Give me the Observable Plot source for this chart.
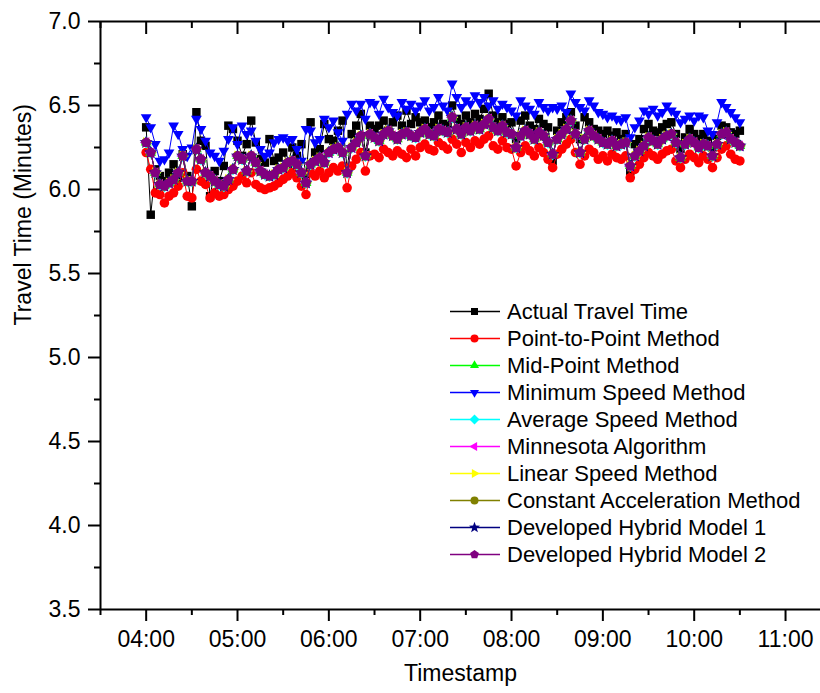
<!DOCTYPE html>
<html>
<head>
<meta charset="utf-8">
<script src="https://cdn.jsdelivr.net/npm/d3@7"></script>
<script src="https://cdn.jsdelivr.net/npm/@observablehq/plot@0.6"></script>
<style>
  body { margin: 0; background: #fff; font-family: "Liberation Sans", Arial, sans-serif; }
  #wrap { position: relative; width: 820px; height: 693px; }
  #legend { position: absolute; left: 450px; top: 298px; }
  .row { display: flex; align-items: center; height: 27px; font-size: 22px; color: #000; white-space: nowrap; }
  .row svg { display: block; margin-right: 5px; }
</style>
</head>
<body>
<div id="wrap"><div id="chart"></div><div id="legend"></div></div>
<script>
// ---- data ----
const startHour = 4;            // first sample at 04:00
const sampleMinutes = 3;        // sampling interval
const xTickLabels = ["04:00","05:00","06:00","07:00","08:00","09:00","10:00","11:00"];
const xTickHours = [4,5,6,7,8,9,10,11];
const xMinorHours = [3.5,4.5,5.5,6.5,7.5,8.5,9.5,10.5];
const yTicks = [3.5,4.0,4.5,5.0,5.5,6.0,6.5,7.0];
const yMinor = [3.75,4.25,4.75,5.25,5.75,6.25,6.75];

const actualTravelTime = [
 6.37,5.85,6.12,6.08,6.05,6.10,6.15,6.07,6.21,6.08,
 5.90,6.46,6.29,6.26,5.96,6.11,6.05,6.14,6.38,6.36,
 6.29,6.20,6.27,6.41,6.28,6.18,6.16,6.30,6.17,6.19,
 6.22,6.15,6.25,6.20,6.27,6.08,6.40,6.22,6.24,6.39,
 6.30,6.29,6.35,6.41,6.12,6.33,6.38,6.45,6.22,6.38,
 6.36,6.38,6.41,6.35,6.40,6.44,6.38,6.47,6.39,6.43,
 6.40,6.41,6.37,6.40,6.44,6.39,6.38,6.50,6.42,6.39,
 6.44,6.40,6.45,6.42,6.48,6.57,6.44,6.40,6.43,6.39,
 6.40,6.30,6.41,6.44,6.38,6.36,6.42,6.39,6.37,6.17,
 6.35,6.40,6.43,6.46,6.38,6.30,6.43,6.40,6.36,6.35,
 6.33,6.35,6.32,6.34,6.30,6.33,6.11,6.27,6.30,6.36,
 6.39,6.35,6.34,6.37,6.39,6.40,6.33,6.24,6.31,6.36,
 6.33,6.30,6.33,6.29,6.25,6.32,6.38,6.37,6.34,6.33,
 6.35];

const pointToPoint = [
 6.22,6.12,5.98,5.97,5.92,5.96,5.98,6.02,6.10,5.96,
 5.95,6.12,6.05,6.03,5.95,5.98,5.96,5.97,6.00,6.02,
 6.05,6.08,6.04,6.10,6.03,6.01,6.00,6.01,6.02,6.04,
 6.06,6.08,6.10,6.07,6.02,5.97,6.10,6.08,6.11,6.07,
 6.10,6.13,6.11,6.14,6.01,6.14,6.18,6.22,6.11,6.20,
 6.21,6.19,6.24,6.22,6.20,6.23,6.21,6.19,6.24,6.20,
 6.25,6.27,6.24,6.23,6.28,6.26,6.24,6.30,6.27,6.22,
 6.28,6.25,6.29,6.27,6.30,6.32,6.26,6.24,6.29,6.25,
 6.24,6.14,6.22,6.26,6.23,6.20,6.25,6.22,6.18,6.13,
 6.21,6.24,6.27,6.30,6.22,6.15,6.20,6.24,6.22,6.18,
 6.20,6.17,6.21,6.19,6.18,6.20,6.07,6.12,6.15,6.19,
 6.22,6.20,6.18,6.21,6.23,6.24,6.17,6.13,6.18,6.21,
 6.19,6.16,6.20,6.18,6.13,6.19,6.24,6.26,6.21,6.18,
 6.17];

const minimumSpeed = [
 6.43,6.37,6.27,6.17,6.18,6.22,6.38,6.33,6.24,6.20,
 6.25,6.42,6.36,6.29,6.22,6.20,6.17,6.23,6.30,6.37,
 6.27,6.38,6.33,6.35,6.29,6.24,6.20,6.22,6.28,6.30,
 6.31,6.29,6.30,6.24,6.17,6.36,6.35,6.28,6.30,6.42,
 6.37,6.41,6.34,6.29,6.45,6.51,6.47,6.51,6.42,6.52,
 6.51,6.45,6.54,6.49,6.46,6.44,6.52,6.48,6.51,6.47,
 6.50,6.53,6.47,6.49,6.55,6.50,6.47,6.63,6.55,6.49,
 6.53,6.51,6.56,6.52,6.55,6.50,6.53,6.48,6.51,6.49,
 6.47,6.44,6.53,6.50,6.48,6.45,6.52,6.49,6.47,6.49,
 6.48,6.50,6.46,6.57,6.52,6.49,6.47,6.53,6.50,6.46,
 6.45,6.43,6.44,6.42,6.41,6.43,6.31,6.37,6.41,6.47,
 6.45,6.48,6.44,6.46,6.50,6.47,6.45,6.40,6.42,6.44,
 6.41,6.44,6.43,6.35,6.33,6.40,6.52,6.49,6.46,6.43,
 6.40];

// The seven remaining methods overlap almost exactly in the picture
// (Developed Hybrid Model 2 drawn on top); values read from that common band.
const middleGroup = [
 6.28,6.22,6.10,6.03,6.02,6.04,6.06,6.10,6.20,6.05,
 6.05,6.24,6.18,6.10,6.08,6.05,6.03,6.02,6.06,6.12,
 6.20,6.18,6.11,6.20,6.16,6.11,6.09,6.08,6.09,6.12,
 6.13,6.16,6.17,6.15,6.10,6.04,6.15,6.17,6.19,6.16,
 6.22,6.24,6.25,6.22,6.10,6.25,6.28,6.32,6.20,6.33,
 6.31,6.29,6.33,6.35,6.32,6.30,6.33,6.34,6.32,6.31,
 6.34,6.36,6.33,6.32,6.36,6.35,6.34,6.43,6.36,6.33,
 6.37,6.35,6.38,6.36,6.39,6.42,6.37,6.35,6.38,6.34,
 6.33,6.25,6.32,6.35,6.33,6.30,6.34,6.32,6.28,6.21,
 6.30,6.33,6.36,6.41,6.33,6.22,6.30,6.35,6.32,6.30,
 6.28,6.27,6.29,6.26,6.27,6.28,6.14,6.20,6.23,6.26,
 6.31,6.29,6.27,6.30,6.32,6.33,6.28,6.19,6.27,6.30,
 6.28,6.25,6.27,6.26,6.20,6.27,6.33,6.34,6.30,6.28,
 6.26];

// ---- symbols ----
function poly(fn) {
  return { draw(ctx, size) {
    const r = Math.sqrt(size / Math.PI), p = fn(r);
    ctx.moveTo(p[0][0], p[0][1]);
    for (let k = 1; k < p.length; k++) ctx.lineTo(p[k][0], p[k][1]);
    ctx.closePath();
  }};
}
const regular = (n, R, rot) => Array.from({length: n}, (_, k) => {
  const a = rot + 2 * Math.PI * k / n; return [R * Math.cos(a), R * Math.sin(a)];
});
const symSquare = poly(r => { const h = r * 0.88; return [[-h,-h],[h,-h],[h,h],[-h,h]]; });
const symCircle = { draw(ctx, size) { const r = Math.sqrt(size / Math.PI); ctx.moveTo(r, 0); ctx.arc(0, 0, r, 0, 2 * Math.PI); } };
const symUp = poly(r => regular(3, r * 1.3, -Math.PI / 2));
const symDown = poly(r => regular(3, r * 1.3, Math.PI / 2));
const symLeft = poly(r => regular(3, r * 1.3, Math.PI));
const symRight = poly(r => regular(3, r * 1.3, 0));
const symDiamond = poly(r => regular(4, r * 1.25, -Math.PI / 2));
const symPentagon = poly(r => regular(5, r * 1.15, -Math.PI / 2));
const symStar = poly(r => Array.from({length: 10}, (_, k) => {
  const a = -Math.PI / 2 + Math.PI * k / 5, R = k % 2 ? r * 0.6 : r * 1.45;
  return [R * Math.cos(a), R * Math.sin(a)];
}));

const series = [
  {name: "Actual Travel Time", color: "#000000", symbol: symSquare, values: actualTravelTime},
  {name: "Point-to-Point Method", color: "#ff0000", symbol: symCircle, values: pointToPoint},
  {name: "Mid-Point Method", color: "#00ff00", symbol: symUp, values: middleGroup},
  {name: "Minimum Speed Method", color: "#0000ff", symbol: symDown, values: minimumSpeed},
  {name: "Average Speed Method", color: "#00ffff", symbol: symDiamond, values: middleGroup},
  {name: "Minnesota Algorithm", color: "#ff00ff", symbol: symLeft, values: middleGroup},
  {name: "Linear Speed Method", color: "#ffff00", symbol: symRight, values: middleGroup},
  {name: "Constant Acceleration Method", color: "#808000", symbol: symCircle, values: middleGroup},
  {name: "Developed Hybrid Model 1", color: "#000080", symbol: symStar, values: middleGroup},
  {name: "Developed Hybrid Model 2", color: "#800080", symbol: symPentagon, values: middleGroup}
];

const hourOf = i => startHour + i * sampleMinutes / 60;
const fmtTick = d => xTickLabels[xTickHours.indexOf(d)];

const marks = [];
for (const s of series) {
  marks.push(Plot.line(s.values, {x: (d, i) => hourOf(i), y: d => d, stroke: s.color, strokeWidth: 1}));
  marks.push(Plot.dot(s.values, {x: (d, i) => hourOf(i), y: d => d, fill: s.color, stroke: "none", symbol: s.symbol, r: 4.8}));
}

const chart = Plot.plot({
  width: 820, height: 693,
  marginLeft: 100, marginRight: 0, marginTop: 21, marginBottom: 84,
  style: {fontFamily: "'Liberation Sans', Arial, sans-serif", fontSize: "23px", color: "#000", background: "#fff", overflow: "visible"},
  x: {domain: [3.5, 11 + 35 / 91.43], label: null},
  y: {domain: [3.5, 7.0], label: null},
  marks: [
    ...marks,
    Plot.ruleY([3.5], {stroke: "#000", strokeWidth: 2}),
    Plot.ruleY([7.0], {stroke: "#000", strokeWidth: 2}),
    Plot.ruleX([3.5], {stroke: "#000", strokeWidth: 2}),
    Plot.axisY({ticks: yTicks, tickSize: 12, tickPadding: 8, tickFormat: d3.format(".1f"), fontSize: 23, strokeWidth: 2, label: null}),
    Plot.axisY({ticks: yMinor, tickSize: 6, tickFormat: () => "", strokeWidth: 2, label: null}),
    Plot.axisX({ticks: xTickHours, tickSize: 12, tickPadding: 9, tickFormat: fmtTick, fontSize: 23, strokeWidth: 2, label: null}),
    Plot.axisX({ticks: xMinorHours, tickSize: 6, tickFormat: () => "", strokeWidth: 2, label: null}),
    Plot.axisX({anchor: "top", ticks: xTickHours, tickSize: 12, dy: 12, tickFormat: () => "", strokeWidth: 2, label: null}),
    Plot.axisX({anchor: "top", ticks: xMinorHours, tickSize: 6, dy: 6, tickFormat: () => "", strokeWidth: 2, label: null}),
    Plot.text(["Timestamp"], {frameAnchor: "bottom", dy: 71, fontSize: 23, fill: "#000"}),
    Plot.text(["Travel Time (Minutes)"], {frameAnchor: "left", dx: -77, dy: 10, rotate: -90, fontSize: 23, fill: "#000"})
  ]
});
document.getElementById("chart").appendChild(chart);

// ---- legend ----
const legend = document.getElementById("legend");
for (const s of series) {
  const p = d3.path();
  s.symbol.draw(p, Math.PI * 4 * 4);
  const row = document.createElement("div");
  row.className = "row";
  row.innerHTML = `<svg width="52" height="27"><line x1="0" x2="50" y1="13.5" y2="13.5" stroke="${s.color}" stroke-width="1.5"/><path transform="translate(24.5,13.5)" d="${p.toString()}" fill="${s.color}"/></svg>`;
  const t = document.createElement("span");
  t.textContent = s.name;
  row.appendChild(t);
  legend.appendChild(row);
}
</script>
</body>
</html>
